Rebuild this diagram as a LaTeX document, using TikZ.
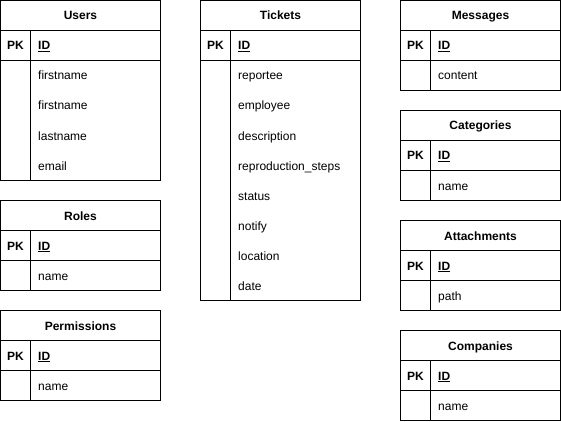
\documentclass[tikz,border=0pt]{standalone}
\usepackage{fontspec}
\setmainfont{Liberation Sans}
\newcommand{\ertab}[6]{%
  % #1 id, #2 x, #3 y, #4 title, #5 number of fields, #6 fields
  \draw[tbl] ({#2},{#3}) rectangle ({#2+160},{#3+60+30*#5});
  \draw[tbl] ({#2},{#3+30}) -- ({#2+160},{#3+30});
  \draw[tbl] ({#2},{#3+60}) -- ({#2+160},{#3+60});
  \draw[tbl] ({#2+30},{#3+30}) -- ({#2+30},{#3+60+30*#5});
  \node[hdr] (#1-t) at ({#2+80},{#3+19.5}) {#4};
  \node[pkc] (#1-pk) at ({#2+15},{#3+49.5}) {PK};
  \node[fld] (#1-id) at ({#2+37.5},{#3+49.5}) {\bfseries\underline{ID}};
  \foreach \f [count=\i] in {#6} {
    \node[fld] (#1-f\i) at ({#2+37.5},{#3+49.5+30*\i}) {\f};
  }%
}
\begin{document}
\begin{tikzpicture}[x=1pt,y=-1pt,
  tbl/.style={draw=black,line width=1pt},
  hdr/.style={anchor=base,inner sep=0pt,font=\fontsize{12}{14}\selectfont\bfseries},
  pkc/.style={anchor=base,inner sep=0pt,font=\fontsize{12}{14}\selectfont\bfseries},
  fld/.style={anchor=base west,inner sep=0pt,font=\fontsize{12}{14}\selectfont}]
\useasboundingbox (0,0) rectangle (561,422);
\fill[white] (0,0) rectangle (561,422);
\ertab{users}{0.5}{0.5}{Users}{4}{firstname,firstname,lastname,email}
\ertab{roles}{0.5}{200.5}{Roles}{1}{name}
\ertab{perm}{0.5}{310.5}{Permissions}{1}{name}
\ertab{tick}{200.5}{0.5}{Tickets}{8}{reportee,employee,description,reproduction\_steps,status,notify,location,date}
\ertab{msg}{400.5}{0.5}{Messages}{1}{content}
\ertab{cat}{400.5}{110.5}{Categories}{1}{name}
\ertab{att}{400.5}{220.5}{Attachments}{1}{path}
\ertab{comp}{400.5}{330.5}{Companies}{1}{name}
\end{tikzpicture}
\end{document}
